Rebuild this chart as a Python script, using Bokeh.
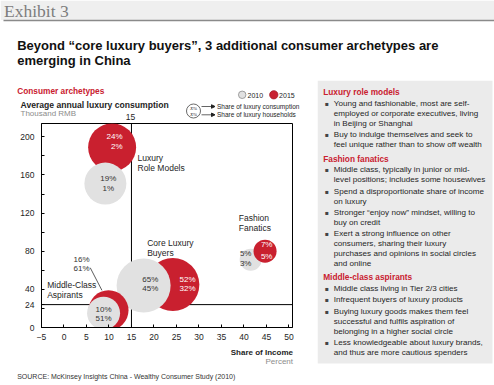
from bokeh.plotting import figure
from bokeh.layouts import column, row
from bokeh.models import (Range1d, FixedTicker, Label, BoxAnnotation, Span,
                          Arrow, NormalHead, ColumnDataSource, Plot)
from bokeh.core.properties import value
from bokeh.embed import file_html
from bokeh.resources import INLINE

# ---------------- data ----------------
archetypes = ["Luxury Role Models", "Core Luxury Buyers",
              "Middle-Class Aspirants", "Fashion Fanatics"]
archetype_lines = [["Luxury", "Role Models"], ["Core Luxury", "Buyers"],
                   ["Middle-Class", "Aspirants"], ["Fashion", "Fanatics"]]
years = ["2010", "2015"]
income_share_2010 = [9.2, 17.7, 8.8, 41.5]          # % of income
income_share_2015 = [10.7, 24.2, 9.9, 44.7]
consumption_2010 = [151, 44, 15, 71]               # thousand RMB
consumption_2015 = [189, 45, 18, 80]
lux_consumption_share_2010 = [19, 65, 10, 5]       # %
lux_consumption_share_2015 = [24, 52, 16, 7]
lux_household_share_2010 = [1, 45, 51, 3]          # %
lux_household_share_2015 = [2, 32, 61, 5]
bubble_value_2010 = [21, 27, 16.5, 11]             # relative bubble radius
bubble_value_2015 = [24, 26.5, 20, 11.5]
front_year = ["2010", "2010", "2010", "2015"]      # which bubble is on top
x_ticks = [-5, 0, 5, 10, 15, 20, 25, 30, 35, 40, 45, 50]
y_ticks = [0, 24, 40, 80, 120, 160, 200]
y_minor_ticks = [20, 60, 100, 140, 180]
income_threshold = 15
consumption_threshold = 24

panel_sections = [
    ("Luxury role models", [
        ["Young and fashionable, most are self-",
         "employed or corporate executives, living",
         "in Beijing or Shanghai"],
        ["Buy to indulge themselves and seek to",
         "feel unique rather than to show off wealth"],
    ]),
    ("Fashion fanatics", [
        ["Middle class, typically in junior or mid-",
         "level positions; includes some housewives"],
        ["Spend a disproportionate share of income",
         "on luxury"],
        ["Stronger \u201cenjoy now\u201d mindset, willing to",
         "buy on credit"],
        ["Exert a strong influence on other",
         "consumers, sharing their luxury",
         "purchases and opinions in social circles",
         "and online"],
    ]),
    ("Middle-class aspirants", [
        ["Middle class living in Tier 2/3 cities"],
        ["Infrequent buyers of luxury products"],
        ["Buying luxury goods makes them feel",
         "successful and fulfils aspiration of",
         "belonging in a higher social circle"],
        ["Less knowledgeable about luxury brands,",
         "and thus are more cautious spenders"],
    ]),
]

# ---------------- styles / layout ----------------
RED = "#c9202f"
GRAY = "#e1e1e1"
TXT = "#1e1e1e"
FONT = "Liberation Sans"
W, H = 494, 385
LEFT_W = 317
FL, FR, FT, FB = 41, 292, 123, 327        # chart frame in page pixels
CH_TOP, CH_BOT = 122, 347                 # chart figure vertical extent
X0, X1 = -5, 50.8
Y0, Y1 = 0, 214

HAS_FRAME_ALIGN = "frame_align" in Plot.properties()


def no_align(f):
    if HAS_FRAME_ALIGN:
        f.frame_align = False


def blank(x0, x1, y0, y1, aligned=False):
    """Figure whose data coordinates are page pixels (y downward)."""
    aligned = aligned and not HAS_FRAME_ALIGN
    kw = dict(min_border=0)
    xr = Range1d(x0, x1)
    if aligned:   # fallback: frame follows the chart frame
        kw = dict(min_border_left=FL - x0, min_border_right=x1 - FR,
                  min_border_top=0, min_border_bottom=0)
        xr = Range1d(FL, FR)
    f = figure(width=x1 - x0, height=y1 - y0, x_range=xr,
               y_range=Range1d(y1, y0), output_backend="svg",
               toolbar_location=None, title=None,
               x_axis_type=None, y_axis_type=None, **kw)
    no_align(f)
    f.grid.visible = False
    f.outline_line_color = None
    f.background_fill_color = "white"
    f.border_fill_color = "white"
    return f


def label(f, x, y, text, size="8px", color=TXT, align="left", bold=False,
          font=FONT, baseline="middle", italic=False):
    style = "bold" if bold else ("italic" if italic else "normal")
    f.add_layout(Label(x=x, y=y, text=text, text_font=font, text_font_size=size,
                       text_color=color, text_align=align, text_baseline=baseline,
                       text_font_style=style))


def box(f, l, t, r, b, fill):
    f.add_layout(BoxAnnotation(left=l, right=r, top=t, bottom=b,
                               fill_color=fill, fill_alpha=1, line_color=None,
                               level="underlay"))


# ---- header figure ----
T = blank(0, W, 0, 80)
box(T, 0, 0, W, 19.5, "#efefef")
box(T, 3, 19.3, W, 20.8, "#8a8a8a")
label(T, 3.5, 10.2, "Exhibit 3", size="17.5px", color="#7d7d7d", font="Liberation Serif")
label(T, 16.7, 45, "Beyond \u201ccore luxury buyers\u201d, 3 additional consumer archetypes are",
      size="13px", bold=True, color="#111111")
label(T, 16.7, 60.3, "emerging in China", size="13px", bold=True, color="#111111")

# ---- chart heading figure ----
L1 = blank(0, LEFT_W, 80, CH_TOP, aligned=True)
label(L1, 16.7, 90.7, "Consumer archetypes", size="8.3px", bold=True, color=RED)
label(L1, 20, 104.3, "Average annual luxury consumption", size="8.6px", bold=True)
label(L1, 20, 113.3, "Thousand RMB", size="8px", color="#8c8c8c")
label(L1, 130, 116, str(income_threshold), size="8.5px", align="center")
L1.scatter(x=[241.7, 273.3], y=[94.3, 94.3], size=[7.5, 8.3],
           fill_color=[GRAY, RED], line_color=["#8c8c8c", "#a51a26"], line_width=0.8)
label(L1, 247, 94.5, years[0], size="7px")
label(L1, 278.6, 94.5, years[1], size="7px")
L1.scatter(x=[193], y=[110.5], size=[14], fill_color="white", line_color="#444444",
           line_width=0.8)
label(L1, 193, 107.6, "X%", size="5px", font="Liberation Serif", italic=True, align="center")
label(L1, 193, 113.6, "X%", size="5px", font="Liberation Serif", italic=True, align="center")
for ky, ktxt in [(106, "Share of luxury consumption"), (114.3, "Share of luxury households")]:
    L1.add_layout(Arrow(x_start=201, y_start=ky, x_end=214.5, y_end=ky,
                        line_color="#222222", line_width=0.7,
                        end=NormalHead(size=3.5, fill_color="#222222", line_color="#222222")))
    label(L1, 216.5, ky, ktxt, size="6.5px")

# ---- chart figure ----
p = figure(width=LEFT_W, height=CH_BOT - CH_TOP, x_range=Range1d(X0, X1),
           y_range=Range1d(Y0, Y1), output_backend="svg", toolbar_location=None,
           title=None, min_border_left=FL, min_border_right=LEFT_W - FR,
           min_border_top=FT - CH_TOP, min_border_bottom=CH_BOT - FB)
no_align(p)
p.grid.visible = False
p.outline_line_color = "black"
p.outline_line_width = 1
p.background_fill_color = "white"
p.border_fill_color = "white"
p.xaxis.ticker = FixedTicker(ticks=x_ticks)
p.yaxis.ticker = FixedTicker(ticks=y_ticks, minor_ticks=y_minor_ticks)
for ax in (p.xaxis, p.yaxis):
    ax.axis_line_color = "black"
    ax.major_tick_line_color = "black"
    ax.minor_tick_line_color = "black"
    ax.major_tick_in = 3
    ax.major_tick_out = 0
    ax.minor_tick_in = 3
    ax.minor_tick_out = 0
    ax.major_label_text_font = FONT
    ax.major_label_text_font_size = "8.5px"
    ax.major_label_text_color = TXT
p.xaxis.minor_tick_line_color = None
p.xaxis.major_label_standoff = 6
p.yaxis.major_label_standoff = 7

SXP = (X1 - X0) / (FR - FL)   # data units per pixel
SYP = (Y1 - Y0) / (FB - FT)


def ox(px):
    return px * SXP


def oy(py):
    return -py * SYP


def cx(px):
    return X0 + (px - FL) * SXP


def cy(py):
    return Y0 + (FB - py) * SYP


p.add_layout(Span(location=income_threshold, dimension="height", line_color="black",
                  line_width=1, level="underlay"))
p.add_layout(Span(location=consumption_threshold, dimension="width", line_color="black",
                  line_width=1, level="underlay"))

series = {
    "2010": dict(x=income_share_2010, y=consumption_2010, r=bubble_value_2010,
                 c=lux_consumption_share_2010, h=lux_household_share_2010, color=GRAY),
    "2015": dict(x=income_share_2015, y=consumption_2015, r=bubble_value_2015,
                 c=lux_consumption_share_2015, h=lux_household_share_2015, color=RED),
}
bx, byy, bs, bc = [], [], [], []
for i in range(len(archetypes)):
    back = "2015" if front_year[i] == "2010" else "2010"
    for yr in (back, front_year[i]):
        s = series[yr]
        bx.append(s["x"][i]); byy.append(s["y"][i])
        bs.append(2 * s["r"][i]); bc.append(s["color"])
p.scatter(x="x", y="y", size="s", fill_color="c", line_color=None, marker="circle",
          source=ColumnDataSource(dict(x=bx, y=byy, s=bs, c=bc)))

label_style = {
    (0, "2015"): ("right", 10.5, [-11, -1], "white"),
    (0, "2010"): ("center", 3, [-4.7, 4.7], "#333333"),
    (1, "2010"): ("center", 6.7, [-6, 2.6], "#333333"),
    (1, "2015"): ("center", 14.7, [-4.7, 3.6], "white"),
    (2, "2010"): ("center", 0, [-4, 5.6], "#333333"),
    (2, "2015"): ("center", -27, [-51, -41.6], "#333333"),
    (3, "2015"): ("right", 7.4, [-7.2, 5.2], "white"),
    (3, "2010"): ("center", -5, [-6.8, 3.8], "#333333"),
}
groups = {}
for (i, yr), (al, xo, yos, col) in label_style.items():
    s = series[yr]
    texts = [f"{s['c'][i]}%", f"{s['h'][i]}%"]
    g = groups.setdefault(al, dict(x=[], y=[], t=[], col=[]))
    for t, yo in zip(texts, yos):
        g["x"].append(s["x"][i] + ox(xo))
        g["y"].append(s["y"][i] + oy(yo))
        g["t"].append(t)
        g["col"].append(col)
for al, g in groups.items():
    p.text(x="x", y="y", text="t", text_color="col", text_align=al,
           text_baseline="middle", text_font=value(FONT), text_font_size="8px",
           source=ColumnDataSource(g))

mi = 2
p.segment(x0=[income_share_2015[mi] + ox(-18.3)], y0=[consumption_2015[mi] + oy(-42.6)],
          x1=[income_share_2015[mi] + ox(-6.6)], y1=[consumption_2015[mi] + oy(-20)],
          line_color="#333333", line_width=0.8)

name_pos = [(137, 157.3), (146.7, 242.3), (46.7, 284), (238.3, 217.7)]
for (px, py), lines in zip(name_pos, archetype_lines):
    for k, ln in enumerate(lines):
        label(p, cx(px), cy(py + 10 * k), ln, size="8.5px")

# ---- below chart ----
L3 = blank(0, LEFT_W, CH_BOT, H, aligned=True)
label(L3, 292.5, 352.3, "Share of Income", size="8px", bold=True, align="right")
label(L3, 292.5, 361.3, "Percent", size="8px", color="#8c8c8c", align="right")
label(L3, 16.7, 376, "SOURCE: McKinsey Insights China - Wealthy Consumer Study (2010)",
      size="7px", color="#333333")

# ---- right panel ----
R = blank(LEFT_W, W, 80, H)
box(R, 317, 80, 492, 363, "#ebebeb")
yy = 91.7
for si, (head, bullets) in enumerate(panel_sections):
    if si > 0:
        yy += 14
    label(R, 322.7, yy, head, size="8.3px", bold=True, color=RED)
    for bullet in bullets:
        yy += 11.2
        label(R, 324.2, yy, "\u25aa", size="6px", color="#444444", font="DejaVu Sans")
        for li, line in enumerate(bullet):
            if li > 0:
                yy += 10
            label(R, 333.3, yy, line, size="8.1px", color="#262626")

root = column(T, row(column(L1, p, L3), R))

open("out.html", "w").write(file_html(root, INLINE))
